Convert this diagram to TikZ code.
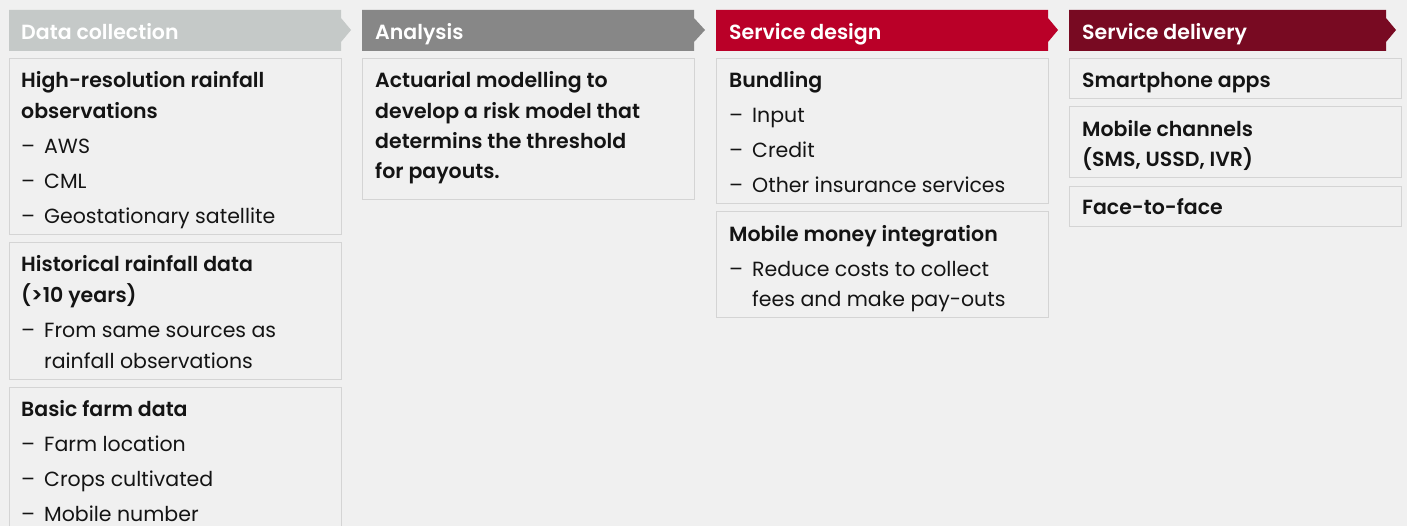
\documentclass[tikz,border=0pt]{standalone}
\usepackage{fontspec}
\setmainfont{Poppins}[BoldFont={Poppins SemiBold}]
\definecolor{bgc}{RGB}{240,240,240}
\definecolor{bordc}{RGB}{212,212,212}
\definecolor{hA}{RGB}{197,201,200}
\definecolor{hB}{RGB}{135,135,135}
\definecolor{hC}{RGB}{186,0,40}
\definecolor{hD}{RGB}{120,10,34}
\definecolor{txc}{RGB}{20,20,20}
\newcommand\fs{\fontsize{20.5}{22}\selectfont}
\newcommand\dsh{\makebox[23pt][l]{–}}
\tikzset{
  box/.style={draw=bordc, fill=bgc, line width=1pt, anchor=north west, inner sep=0pt},
  tx/.style={anchor=base west, inner sep=0pt, yshift=-1pt, text=txc, font=\fs},
  tb/.style={anchor=base west, inner sep=0pt, yshift=-1pt, text=txc, font=\fs\bfseries},
  ht/.style={anchor=base west, inner sep=0pt, yshift=-0.5pt, text=white, font=\fs\bfseries},
}
\begin{document}
\begin{tikzpicture}[x=1pt,y=-1pt]
\fill[bgc] (0,0) rectangle (1407,526);
\useasboundingbox (0,0) rectangle (1407,526);
% headers
\fill[hA] (9,10) -- (341,10) -- (341,18) -- (351,30) -- (341,42) -- (341,51) -- (9,51) -- cycle;
\fill[hB] (362,10) -- (694,10) -- (694,18) -- (705,30) -- (694,42) -- (694,51) -- (362,51) -- cycle;
\fill[hC] (716,10) -- (1048,10) -- (1048,18) -- (1058,30) -- (1048,42) -- (1048,51) -- (716,51) -- cycle;
\fill[hD] (1069,10) -- (1386,10) -- (1386,18) -- (1396,30) -- (1386,42) -- (1386,51) -- (1069,51) -- cycle;
\node[ht] (h1) at (21,39) {Data collection};
\node[ht] (h2) at (375,39) {Analysis};
\node[ht] (h3) at (729,39) {Service design};
\node[ht] (h4) at (1082,39) {Service delivery};
% column 1
\node[box, minimum width=332, minimum height=176] (b11) at (9,58) {};
\node[tb] (t111) at (21,87) {High-resolution rainfall};
\node[tb] (t112) at (21,117.5) {observations};
\node[tx] (t113) at (21,152.5) {\dsh AWS};
\node[tx] (t114) at (21,187.5) {\dsh CML};
\node[tx] (t115) at (21,222.5) {\dsh Geostationary satellite};
\node[box, minimum width=332, minimum height=137] (b12) at (9,242) {};
\node[tb] (t121) at (21,271) {Historical rainfall data};
\node[tb] (t122) at (21,301.5) {(>10 years)};
\node[tx] (t123) at (21,336.5) {\dsh From same sources as};
\node[tx] (t124) at (44,367) {rainfall observations};
\node[box, minimum width=332, minimum height=160] (b13) at (9,387) {};
\node[tb] (t131) at (21,415.5) {Basic farm data};
\node[tx] (t132) at (21,450.5) {\dsh Farm location};
\node[tx] (t133) at (21,485.5) {\dsh Crops cultivated};
\node[tx] (t134) at (21,520.5) {\dsh Mobile number};
% column 2
\node[box, minimum width=332, minimum height=141] (b21) at (362,58) {};
\node[tb] (t211) at (375,87) {Actuarial modelling to};
\node[tb] (t212) at (375,117.5) {develop a risk model that};
\node[tb] (t213) at (375,148) {determins the threshold};
\node[tb] (t214) at (375,178) {for payouts.};
% column 3
\node[box, minimum width=332, minimum height=145] (b31) at (716,58) {};
\node[tb] (t311) at (729,87) {Bundling};
\node[tx] (t312) at (729,122) {\dsh Input};
\node[tx] (t313) at (729,157) {\dsh Credit};
\node[tx] (t314) at (729,192) {\dsh Other insurance services};
\node[box, minimum width=332, minimum height=106] (b32) at (716,211.5) {};
\node[tb] (t321) at (729,240.5) {Mobile money integration};
\node[tx] (t322) at (729,276) {\dsh Reduce costs to collect};
\node[tx] (t323) at (752,305.5) {fees and make pay-outs};
% column 4
\node[box, minimum width=332, minimum height=40] (b41) at (1068.5,58) {};
\node[tb] (t411) at (1082,86.5) {Smartphone apps};
\node[box, minimum width=332, minimum height=71] (b42) at (1068.5,106.5) {};
\node[tb] (t421) at (1082,135.5) {Mobile channels};
\node[tb] (t422) at (1082,165.5) {(SMS, USSD, IVR)};
\node[box, minimum width=332, minimum height=40.5] (b43) at (1068.5,186) {};
\node[tb] (t431) at (1082,214) {Face-to-face};
\end{tikzpicture}
\end{document}
